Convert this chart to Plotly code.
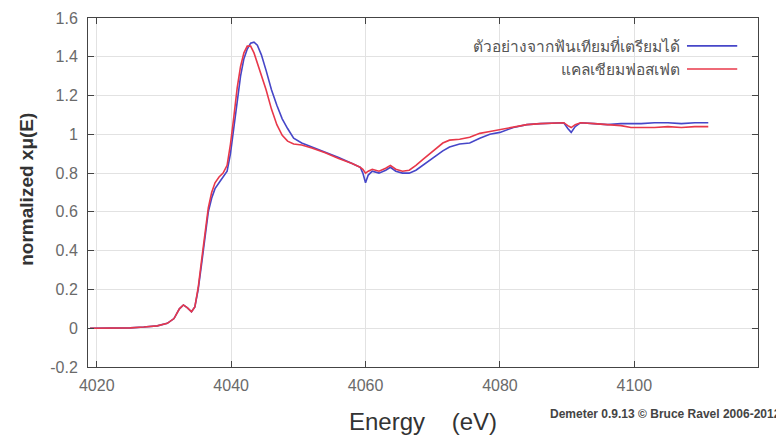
import plotly.graph_objects as go

energy = [4019, 4022, 4025, 4027, 4029, 4030.5, 4031.5, 4032.3, 4032.9, 4033.5, 4034.1, 4034.6,
          4035.1, 4035.6, 4036.1, 4036.6, 4037.1, 4037.6, 4038.2, 4038.8, 4039.4, 4039.9, 4040.4,
          4040.9, 4041.4, 4041.9, 4042.4, 4042.9, 4043.4, 4043.9, 4044.5, 4045.2, 4046, 4046.8,
          4047.6, 4048.4, 4049.3, 4050.5, 4052, 4054, 4056, 4058, 4059.2, 4059.6, 4060, 4060.4,
          4061, 4062, 4063, 4063.7, 4064.5, 4065.5, 4066.5, 4067.5, 4068.5, 4069.5, 4070.5,
          4071.5, 4072.5, 4074, 4075.5, 4077, 4078.5, 4080, 4082, 4084, 4086, 4088, 4089.5,
          4090.1, 4090.6, 4091.2, 4092, 4094, 4096, 4098, 4099.5, 4101, 4103, 4105, 4107, 4109, 4111]

sample_mu = [0.0, 0.0, 0.002, 0.006, 0.012, 0.025, 0.05, 0.1, 0.12, 0.105, 0.085, 0.11,
             0.2, 0.33, 0.48, 0.6, 0.67, 0.72, 0.75, 0.78, 0.81, 0.9, 1.04,
             1.18, 1.3, 1.39, 1.44, 1.47, 1.475, 1.46, 1.41, 1.33, 1.23, 1.15,
             1.08, 1.03, 0.98, 0.955, 0.935, 0.91, 0.88, 0.85, 0.83, 0.8, 0.75, 0.79,
             0.81, 0.8, 0.815, 0.83, 0.81, 0.8, 0.8, 0.815, 0.84, 0.865, 0.89,
             0.915, 0.935, 0.95, 0.955, 0.98, 1.0, 1.01, 1.035, 1.05, 1.055, 1.06, 1.06,
             1.03, 1.01, 1.04, 1.06, 1.055, 1.05, 1.055, 1.055, 1.055, 1.06, 1.06, 1.055, 1.06, 1.06]

capo4_mu = [0.0, 0.0, 0.002, 0.006, 0.012, 0.025, 0.05, 0.1, 0.12, 0.105, 0.085, 0.11,
            0.21, 0.35, 0.5, 0.62, 0.7, 0.75, 0.78, 0.8, 0.84, 0.95, 1.09,
            1.24, 1.35, 1.42, 1.455, 1.455, 1.42, 1.37, 1.31, 1.23, 1.13, 1.05,
            0.995, 0.965, 0.95, 0.945, 0.93, 0.905, 0.875, 0.85, 0.83, 0.82, 0.8, 0.81,
            0.82, 0.81, 0.825, 0.84, 0.82, 0.81, 0.815, 0.84, 0.87, 0.9, 0.93,
            0.955, 0.97, 0.975, 0.985, 1.005, 1.015, 1.025, 1.04, 1.05, 1.055, 1.06, 1.06,
            1.045, 1.035, 1.05, 1.06, 1.055, 1.05, 1.045, 1.035, 1.035, 1.035, 1.04, 1.035, 1.04, 1.04]

series_names = ["ตัวอย่างจากฟันเทียมที่เตรียมได้", "แคลเซียมฟอสเฟต"]
series_colors = ["#4646c8", "#e8384a"]

x_ticks = [4020, 4040, 4060, 4080, 4100]
y_ticks = [-0.2, 0, 0.2, 0.4, 0.6, 0.8, 1, 1.2, 1.4, 1.6]
y_tick_text = ["-0.2", "0", "0.2", "0.4", "0.6", "0.8", "1", "1.2", "1.4", "1.6"]

fig = go.Figure()
for name, vals, col in zip(series_names, [sample_mu, capo4_mu], series_colors):
    fig.add_trace(go.Scatter(x=energy, y=vals, mode="lines", name=name,
                             line=dict(color=col, width=1.6), showlegend=False))

# legend (gnuplot style: text left, sample right)
legend_y = [0.920, 0.854]
for name, col, ly in zip(series_names, series_colors, legend_y):
    fig.add_annotation(xref="paper", yref="paper", x=0.887, y=ly, text=name, showarrow=False,
                       xanchor="right", yanchor="middle",
                       font=dict(family="Noto Sans, Liberation Sans, sans-serif", size=15.5, color="#555"))
    fig.add_shape(type="line", xref="paper", yref="paper", x0=0.894, x1=0.969, y0=ly, y1=ly,
                  line=dict(color=col, width=1.6))

fig.add_annotation(xref="paper", yref="paper", x=0.687, y=-0.136,
                   text="<b>Demeter 0.9.13 © Bruce Ravel 2006-2012</b>",
                   showarrow=False, xanchor="left", yanchor="middle",
                   font=dict(family="Liberation Sans, Arial, sans-serif", size=12, color="#444"))

fig.add_annotation(xref="paper", yref="paper", x=0.5, y=-0.156, text="Energy &nbsp;&nbsp; (eV)",
                   showarrow=False, xanchor="center", yanchor="middle",
                   font=dict(family="Liberation Sans, Arial, sans-serif", size=24, color="#333"))

fig.add_annotation(xref="paper", yref="paper", x=-0.091, y=0.508, text="<b>normalized xμ(E)</b>",
                   showarrow=False, xanchor="center", yanchor="middle", textangle=-90,
                   font=dict(family="Liberation Sans, Arial, sans-serif", size=19, color="#333"))

axis_common = dict(showline=True, linecolor="#444", linewidth=1, mirror="allticks",
                   ticks="inside", ticklen=6, tickcolor="#444", showgrid=True,
                   gridcolor="#e2e2e2", gridwidth=1, zeroline=False, automargin=False,
                   tickfont=dict(family="Liberation Sans, Arial, sans-serif", size=16, color="#6a6a6a"))

fig.update_layout(
    width=784, height=439,
    margin=dict(l=80, r=34, t=10, b=80),
    paper_bgcolor="white", plot_bgcolor="white",
    xaxis=dict(range=[4018.7, 4118.4], tickvals=x_ticks, ticklabelstandoff=4, **axis_common),
    yaxis=dict(range=[-0.2, 1.6], tickvals=y_ticks, ticktext=y_tick_text, ticklabelstandoff=6,
               **axis_common),
)

fig.write_html("out.html")
